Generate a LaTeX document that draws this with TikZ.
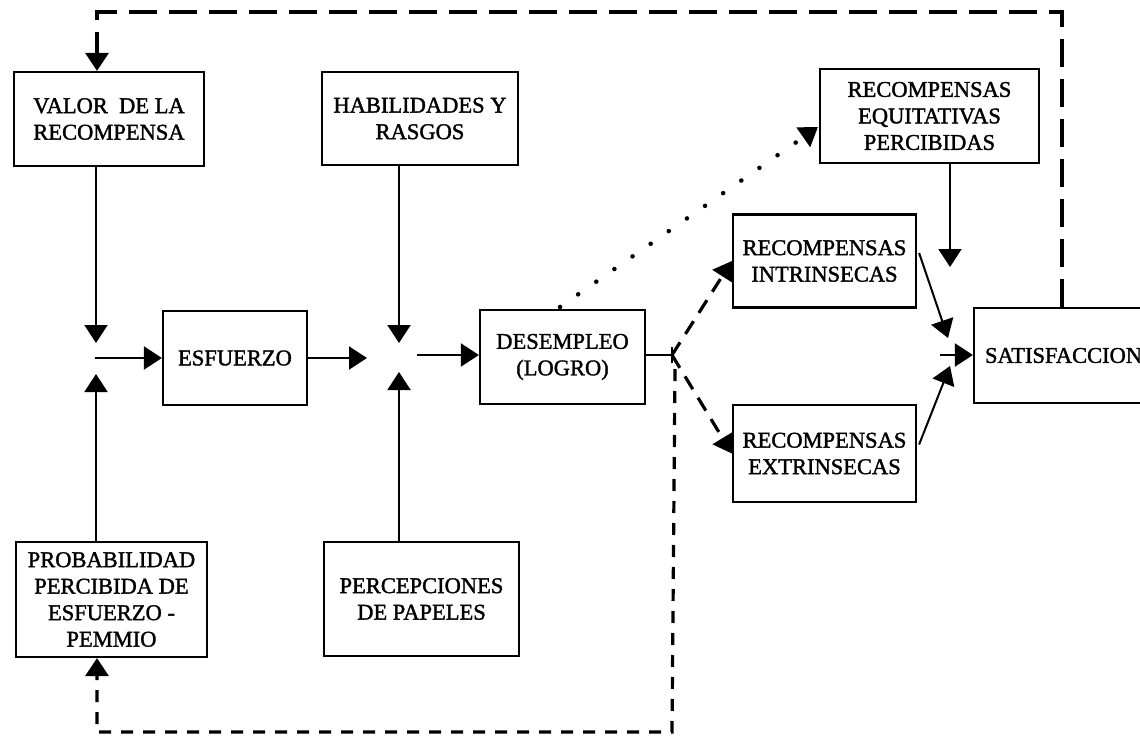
\documentclass[tikz,border=0pt]{standalone}
\usepackage{fontspec}
\setmainfont[FakeBold=1.5,AutoFakeBold=1.5]{Liberation Serif}
\usetikzlibrary{arrows.meta}
\begin{document}
\begin{tikzpicture}[x=1pt,y=-1pt,
  box/.style={draw, line width=2.2pt, align=center, inner sep=2pt,
              font=\fontsize{22.5}{26.5}\selectfont\bfseries},
  tip/.style={-{Triangle[length=18pt,width=23pt]}},
  arr/.style={line width=2pt, tip},
  topdash/.style={line width=3.4pt, dash pattern=on 28pt off 12pt, tip},
  botdash/.style={line width=3.2pt, dash pattern=on 12pt off 10pt, tip},
  diagdash/.style={line width=3.2pt, dash pattern=on 15pt off 10pt, tip},
  dotarr/.style={line width=4.5pt, line cap=round, dash pattern=on 0.1pt off 22pt, tip}
]
\useasboundingbox (0,0) rectangle (1140,741);
\clip (0,0) rectangle (1140,741);
\fill[white] (0,0) rectangle (1140,741);

% boxes
\node[box, minimum width=190pt, minimum height=94pt] (valor) at (109,119) {VALOR\ \ DE LA\\RECOMPENSA};
\node[box, minimum width=196pt, minimum height=93pt] (hab) at (420,118.5) {HABILIDADES Y\\RASGOS};
\node[box, minimum width=144pt, minimum height=94pt] (esf) at (235,358) {ESFUERZO};
\node[box, minimum width=165pt, minimum height=94pt] (des) at (562.5,357) {DESEMPLEO\\(LOGRO)};
\node[box, minimum width=219pt, minimum height=94pt] (equi) at (929.5,116) {RECOMPENSAS\\EQUITATIVAS\\PERCIBIDAS};
\node[box, minimum width=183pt, minimum height=93pt] (intr) at (824.5,261) {RECOMPENSAS\\INTRINSECAS};
\node[box, minimum width=183pt, minimum height=97pt] (extr) at (824.5,453.5) {RECOMPENSAS\\EXTRINSECAS};
\node[box, text width=204pt, align=left, inner xsep=11pt, minimum height=95pt] (sat) at (1087,355.5) {SATISFACCION};
\node[box, minimum width=191pt, minimum height=115pt] (prob) at (111.5,599.5) {PROBABILIDAD\\PERCIBIDA DE\\ESFUERZO -\\PEMMIO};
\node[box, minimum width=195pt, minimum height=114pt] (perc) at (421.5,599) {PERCEPCIONES\\DE PAPELES};

% junction coordinates
\coordinate (j1n) at (96,343);
\coordinate (j1s) at (96,374);
\coordinate (j1e) at (95,358);
\coordinate (j2w) at (367,358);
\coordinate (j2n) at (399,343);
\coordinate (j2s) at (399,372);
\coordinate (j2e) at (417,355);
\coordinate (fork) at (672,355);
\coordinate (fb) at (97,732);
\coordinate (tp) at (97,12);
\coordinate (tr) at (1062,12);
\coordinate (dstart) at (560,307);
\coordinate (eqin) at (818,127);
\coordinate (eqout) at (950,267);
\coordinate (satin1) at (948,338);
\coordinate (satin2) at (950,366);
\coordinate (satin0) at (940,355);

% solid connectors
\draw[arr] (valor.south -| j1n) -- (j1n);
\draw[arr] (prob.north -| j1s) -- (j1s);
\draw[arr] (j1e) -- (esf.west |- j1e);
\draw[arr] (esf.east |- j2w) -- (j2w);
\draw[arr] (hab.south -| j2n) -- (j2n);
\draw[arr] (perc.north -| j2s) -- (j2s);
\draw[arr] (j2e) -- (des.west |- j2e);
\draw[line width=2pt] (des.east |- fork) -- (fork);
\draw[line width=2pt] (fork) ++(0,-8) -- ++(0,16);
\draw[arr] (equi.south -| eqout) -- (eqout);
\draw[arr] (intr.east) ++(2,-8) -- (satin1);
\draw[arr] (extr.east) ++(2,-9) -- (satin2);
\draw[arr] (satin0) -- (sat.west |- satin0);

% dashed / dotted connectors
\draw[diagdash] (fork) -- (intr.west);
\draw[diagdash] (fork) -- (extr.west);
\draw[botdash] (fork) ++(3,14) -- (fork |- fb) -- (fb) -- (prob.south -| fb);
\draw[topdash] (sat.north -| tr) -- (tr) -- (tp) -- (valor.north -| tp);
\draw[dotarr] (dstart) -- (eqin);
\end{tikzpicture}
\end{document}
